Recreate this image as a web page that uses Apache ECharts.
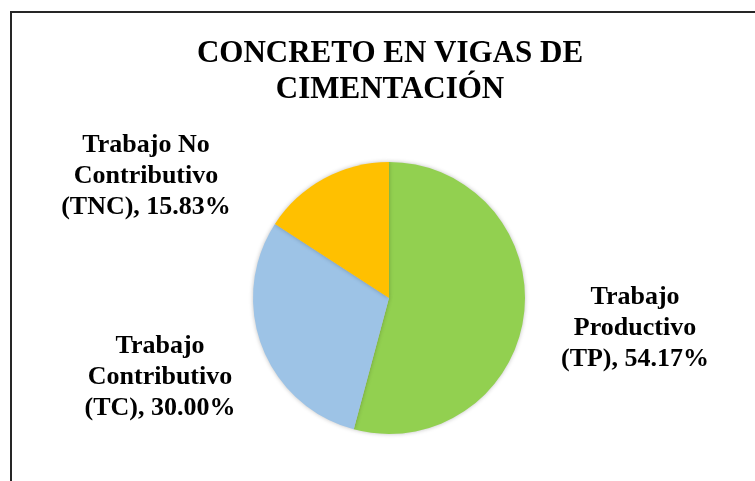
<!DOCTYPE html>
<html>
<head>
<meta charset="utf-8">
<script src="https://cdn.jsdelivr.net/npm/echarts@6/dist/echarts.min.js"></script>
<style>
  html, body { margin: 0; padding: 0; background: #fff; }
  #chart { width: 755px; height: 481px; }
</style>
</head>
<body>
<div id="chart"></div>
<script>
// datos del gráfico
const categories = ['Trabajo\nProductivo\n(TP)', 'Trabajo\nContributivo\n(TC)', 'Trabajo No\nContributivo\n(TNC)'];
const values = [54.17, 30.00, 15.83];
const colors = ['#92D050', '#9DC3E6', '#FFC000'];

// posiciones de las etiquetas (centro del bloque de texto)
const labelPos = [[635, 328], [160, 377], [146, 176]];

const chart = echarts.init(document.getElementById('chart'));
const option = {
    backgroundColor: '#fff',
    animation: false,
    title: {
        text: 'CONCRETO EN VIGAS DE\nCIMENTACIÓN',
        left: 390,
        top: 36,
        padding: 0,
        textAlign: 'center',
        textStyle: {
            fontFamily: 'Liberation Serif',
            fontSize: 31,
            fontWeight: 'bold',
            lineHeight: 36,
            color: '#000'
        }
    },
    graphic: [{
        type: 'rect',
        shape: { x: 11, y: 12, width: 800, height: 520 },
        style: { fill: 'none', stroke: '#262626', lineWidth: 2 },
        silent: true
    }],
    series: [{
        type: 'pie',
        center: [389, 298],
        radius: [0, 136],
        startAngle: 90,
        clockwise: true,
        itemStyle: {
            borderWidth: 0,
            shadowBlur: 4,
            shadowColor: 'rgba(0,0,0,0.25)'
        },
        label: {
            show: true,
            position: 'outside',
            fontFamily: 'Liberation Serif',
            fontSize: 26,
            fontWeight: 'bold',
            lineHeight: 31,
            color: '#000',
            align: 'center',
            formatter: function(p) {
                return p.name + ', ' + p.value.toFixed(2) + '%';
            }
        },
        labelLine: { show: false },
        labelLayout: function(p) {
            return {
                x: labelPos[p.dataIndex][0],
                y: labelPos[p.dataIndex][1],
                align: 'center',
                verticalAlign: 'middle'
            };
        },
        data: categories.map((name, i) => ({
            name: name,
            value: values[i],
            itemStyle: { color: colors[i] }
        }))
    }]
};
chart.setOption(option);
</script>
</body>
</html>
